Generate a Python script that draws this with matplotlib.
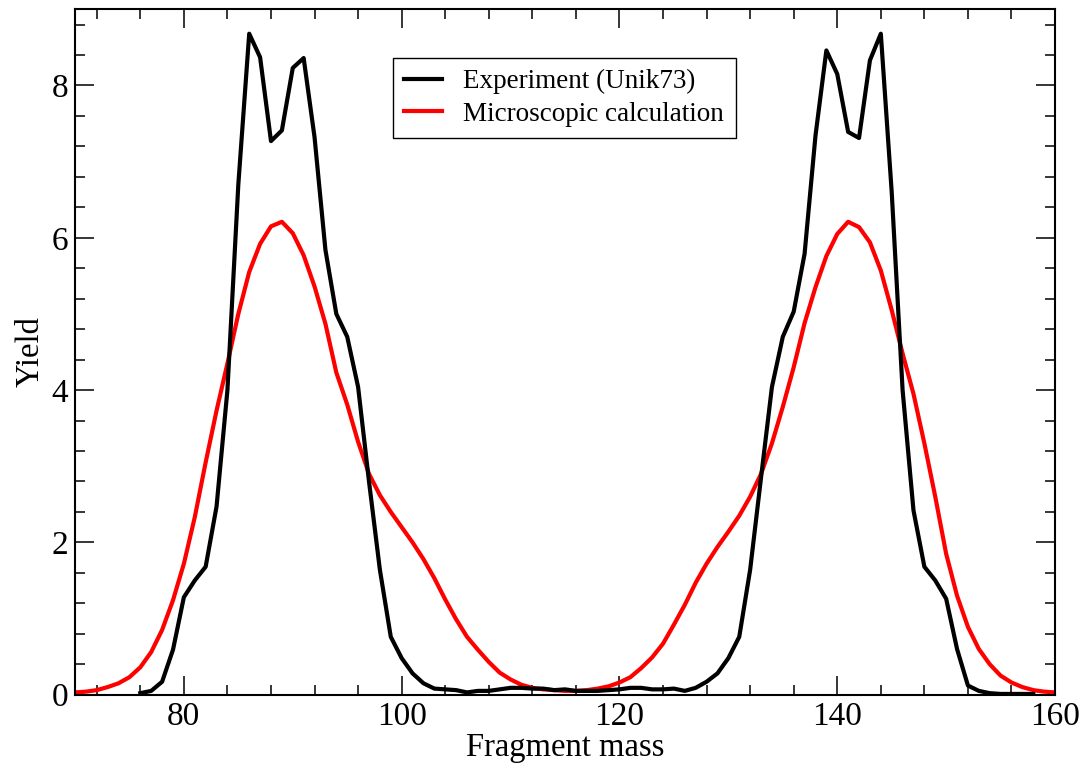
import numpy as np
import matplotlib
matplotlib.use("Agg")
import matplotlib.pyplot as plt
from matplotlib.ticker import MultipleLocator

plt.rcParams["font.family"] = ["Liberation Serif", "DejaVu Serif"]

# experiment (Unik73), mass 76..158
exp_mass = list(range(76, 159))
exp_yield = [
    0.02, 0.05, 0.17, 0.59, 1.28, 1.50, 1.68, 2.47, 4.00, 6.70,   # 76-85
    8.68, 8.37, 7.27, 7.41, 8.23, 8.36, 7.32, 5.84, 5.00, 4.70,   # 86-95
    4.04, 2.80, 1.64, 0.76, 0.48, 0.28, 0.15, 0.08, 0.07, 0.06,   # 96-105
    0.03, 0.05, 0.05, 0.07, 0.09, 0.09, 0.08, 0.08, 0.06, 0.07,   # 106-115
    0.05, 0.05, 0.05, 0.06, 0.07, 0.09, 0.09, 0.07, 0.07, 0.08,   # 116-125
    0.05, 0.09, 0.17, 0.28, 0.48, 0.76, 1.64, 2.85, 4.04, 4.70,   # 126-135
    5.03, 5.79, 7.34, 8.46, 8.15, 7.39, 7.31, 8.33, 8.68, 6.60,   # 136-145
    4.00, 2.42, 1.68, 1.50, 1.26, 0.60, 0.12, 0.05, 0.02, 0.01,   # 146-155
    0.01, 0.01, 0.01,                                             # 156-158
]

# microscopic calculation, mass 70..160
calc_mass = list(range(70, 161))
calc_yield = [
    0.03, 0.04, 0.06, 0.10, 0.15, 0.23, 0.36, 0.56, 0.85, 1.24,   # 70-79
    1.72, 2.33, 3.05, 3.73, 4.35, 5.00, 5.55, 5.92, 6.15, 6.21,   # 80-89
    6.06, 5.77, 5.36, 4.87, 4.23, 3.81, 3.32, 2.90, 2.62, 2.40,   # 90-99
    2.20, 2.00, 1.78, 1.53, 1.25, 0.99, 0.76, 0.59, 0.43, 0.29,   # 100-109
    0.20, 0.13, 0.09, 0.07, 0.06, 0.05, 0.05, 0.06, 0.08, 0.11,   # 110-119
    0.16, 0.23, 0.35, 0.49, 0.67, 0.92, 1.18, 1.47, 1.72, 1.94,   # 120-129
    2.14, 2.35, 2.60, 2.90, 3.30, 3.78, 4.30, 4.88, 5.35, 5.76,   # 130-139
    6.05, 6.21, 6.14, 5.94, 5.57, 5.05, 4.48, 3.95, 3.30, 2.60,   # 140-149
    1.85, 1.30, 0.89, 0.60, 0.40, 0.25, 0.16, 0.10, 0.06, 0.04,   # 150-159
    0.03,                                                         # 160
]

fig = plt.figure(figsize=(10.85, 7.7), dpi=100)
ax = fig.add_axes([0.0691, 0.0978, 0.9033, 0.8901])

l_calc, = ax.plot(calc_mass, calc_yield, color="#ff0000", lw=3, label="Microscopic calculation")
l_exp, = ax.plot(exp_mass, exp_yield, color="black", lw=3, label="Experiment (Unik73)")

ax.set_xlim(70, 160)
ax.set_ylim(0, 9)
ax.xaxis.set_major_locator(MultipleLocator(20))
ax.xaxis.set_minor_locator(MultipleLocator(4))
ax.yaxis.set_major_locator(MultipleLocator(2))
ax.yaxis.set_minor_locator(MultipleLocator(0.4))

ax.tick_params(which="both", direction="in", top=True, right=True, width=1.1,
               labelsize=24, pad=5)
ax.tick_params(which="major", length=14)
ax.tick_params(which="minor", length=7)
for s in ax.spines.values():
    s.set_linewidth(1.5)

ax.set_xlabel("Fragment mass", fontsize=23.5, labelpad=0)
ax.set_ylabel("Yield", fontsize=23.5, labelpad=4)

leg = ax.legend(handles=[l_exp, l_calc], loc="upper left",
                bbox_to_anchor=(0.3245, 0.929), borderaxespad=0,
                fontsize=19.5, fancybox=False, framealpha=1, edgecolor="black",
                handlelength=1.4, handletextpad=0.78, labelspacing=0.26,
                borderpad=0.42)
leg.get_frame().set_linewidth(1.0)

fig.savefig("out.png", dpi=100)
